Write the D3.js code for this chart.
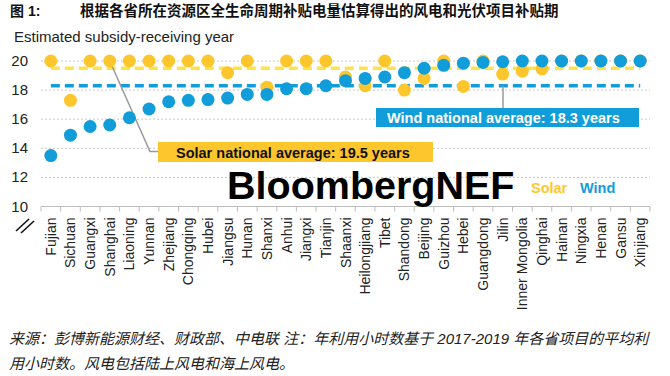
<!DOCTYPE html>
<html>
<head>
<meta charset="utf-8">
<script src="https://cdn.jsdelivr.net/npm/d3@7"></script>
<style>
  body { margin: 0; background: #fff; }
  svg { display: block; font-family: "Liberation Sans", Arial, "Noto Sans CJK SC", sans-serif; }
</style>
</head>
<body>
<div id="chart"></div>
<script>
// provinces, left to right
const provinces = ["Fujian", "Sichuan", "Guangxi", "Shanghai", "Liaoning", "Yunnan", "Zhejiang",
  "Chongqing", "Hubei", "Jiangsu", "Hunan", "Shanxi", "Anhui", "Jiangxi", "Tianjin", "Shaanxi",
  "Heilongjiang", "Tibet", "Shandong", "Beijing", "Guizhou", "Hebei", "Guangdong", "Jilin",
  "Inner Mongolia", "Qinghai", "Hainan", "Ningxia", "Henan", "Gansu", "Xinjiang"];
// estimated subsidy-receiving years
const solarYears = [20, 17.3, 20, 20, 20, 20, 20, 20, 20, 19.2, 20, 18.2, 20, 20, 20, 18.9,
  18.3, 20, 18.0, 18.8, 20, 18.25, 20, 19.1, 19.3, 19.45, 20, 20, 20, 20, 20];
const windYears = [13.5, 14.9, 15.5, 15.6, 16.1, 16.7, 17.2, 17.3, 17.35, 17.45, 17.7, 17.7,
  18.1, 18.1, 18.3, 18.65, 18.8, 18.9, 19.2, 19.5, 19.7, 19.85, 19.9, 19.95, 20, 20, 20, 20, 20, 20, 20];
const solarAvg = 19.5;
const windAvg = 18.3;
const yTicks = [10, 12, 14, 16, 18, 20];

const title = "根据各省所在资源区全生命周期补贴电量估算得出的风电和光伏项目补贴期";
const note1 = "来源：彭博新能源财经、财政部、中电联  注：年利用小时数基于 2017-2019 年各省项目的平均利";
const note2 = "用小时数。风电包括陆上风电和海上风电。";

const width = 670, height = 376;
const solarColor = "#fdc62c", windColor = "#109dd9";

const svg = d3.select("#chart").append("svg")
  .attr("width", width)
  .attr("height", height);

const x = d3.scalePoint()
  .domain(provinces)
  .range([41, 650])
  .padding(0.5);
const y = d3.scaleLinear()
  .domain([10, 20])
  .range([206.5, 61]);

// title
svg.append("text").attr("x", 10).attr("y", 16)
  .attr("font-size", 14).attr("font-weight", "bold").attr("fill", "#111")
  .text("图 1:");
svg.append("text").attr("x", 80).attr("y", 16)
  .attr("font-size", 14.5).attr("font-weight", "bold").attr("fill", "#111")
  .style("font-family", "'Noto Sans CJK SC', sans-serif")
  .text(title);

// axis title
svg.append("text").attr("x", 14).attr("y", 42)
  .attr("font-size", 15).attr("fill", "#222")
  .text("Estimated subsidy-receiving year");

// gridlines
svg.append("g")
  .selectAll("line")
  .data(yTicks.filter(d => d > 10))
  .join("line")
    .attr("x1", 41).attr("x2", 650)
    .attr("y1", d => y(d)).attr("y2", d => y(d))
    .attr("stroke", "#c8c8c8")
    .attr("stroke-dasharray", "2,2");

// y labels
svg.append("g")
  .selectAll("text")
  .data(yTicks)
  .join("text")
    .attr("x", 28).attr("y", d => y(d) + 5)
    .attr("text-anchor", "end")
    .attr("font-size", 15).attr("fill", "#222")
    .text(d => d);

// x axis
const xAxis = svg.append("g")
  .attr("transform", "translate(0," + y(10) + ")");
xAxis.append("line").attr("x1", 41).attr("x2", 650).attr("stroke", "#bdbdbd");
const step = x.step();
xAxis.selectAll("line.tick")
  .data(d3.range(provinces.length + 1))
  .join("line").attr("class", "tick")
    .attr("x1", i => 41 + i * step).attr("x2", i => 41 + i * step)
    .attr("y1", 0).attr("y2", 5)
    .attr("stroke", "#bdbdbd");
xAxis.selectAll("text")
  .data(provinces)
  .join("text")
    .attr("transform", d => "translate(" + (x(d) + 5) + ",11) rotate(-90)")
    .attr("text-anchor", "end")
    .attr("font-size", 14).attr("fill", "#222")
    .text(d => d);

// axis break mark
svg.append("g").attr("stroke", "#111").attr("stroke-width", 1.6)
  .selectAll("line")
  .data([0, 5])
  .join("line")
    .attr("x1", d => 16 + d).attr("y1", d => 231 + d * 0.4)
    .attr("x2", d => 29 + d).attr("y2", d => 219 + d * 0.4);

// national averages
svg.append("line")
  .attr("x1", x(provinces[0])).attr("x2", x(provinces[provinces.length - 1]))
  .attr("y1", y(solarAvg)).attr("y2", y(solarAvg))
  .attr("stroke", "#ffe24a").attr("stroke-width", 3.5)
  .attr("stroke-dasharray", "9,5");
svg.append("line")
  .attr("x1", x(provinces[0])).attr("x2", x(provinces[provinces.length - 1]))
  .attr("y1", y(windAvg)).attr("y2", y(windAvg))
  .attr("stroke", windColor).attr("stroke-width", 3.5)
  .attr("stroke-dasharray", "9,5");

// leader lines
svg.append("path")
  .attr("d", d3.line()([[x("Shanghai"), y(20)], [150, 151.5], [158, 151.5]]))
  .attr("fill", "none").attr("stroke", "#9a9a9a").attr("stroke-width", 1.5);
svg.append("line")
  .attr("x1", 503).attr("x2", 503).attr("y1", y(windAvg)).attr("y2", 108)
  .attr("stroke", "#9a9a9a").attr("stroke-width", 1.5);

// dots
svg.append("g")
  .selectAll("circle")
  .data(provinces)
  .join("circle")
    .attr("cx", d => x(d))
    .attr("cy", (d, i) => y(solarYears[i]))
    .attr("r", 6.5)
    .attr("fill", solarColor);
svg.append("g")
  .selectAll("circle")
  .data(provinces)
  .join("circle")
    .attr("cx", d => x(d))
    .attr("cy", (d, i) => y(windYears[i]))
    .attr("r", 6.5)
    .attr("fill", windColor);

// average labels
svg.append("rect").attr("x", 376).attr("y", 108).attr("width", 263).attr("height", 19)
  .attr("fill", windColor);
svg.append("text").attr("x", 387).attr("y", 123)
  .attr("font-size", 14.5).attr("font-weight", "bold").attr("fill", "#fff")
  .text("Wind national average: " + windAvg + " years");
svg.append("rect").attr("x", 158).attr("y", 142).attr("width", 275).attr("height", 20)
  .attr("fill", solarColor);
svg.append("text").attr("x", 176).attr("y", 157.5)
  .attr("font-size", 14.5).attr("font-weight", "bold").attr("fill", "#111")
  .text("Solar national average: " + solarAvg + " years");

// brand + legend
svg.append("text").attr("x", 227).attr("y", 199)
  .attr("font-size", 39.5).attr("font-weight", "bold").attr("fill", "#000")
  .text("BloombergNEF");
svg.append("text").attr("x", 531).attr("y", 193)
  .attr("font-size", 14.5).attr("font-weight", "bold").attr("fill", solarColor)
  .text("Solar");
svg.append("text").attr("x", 580).attr("y", 193)
  .attr("font-size", 14.5).attr("font-weight", "bold").attr("fill", windColor)
  .text("Wind");

// source note
const notes = svg.append("g")
  .attr("font-size", 15).attr("font-style", "italic").attr("fill", "#222")
  .style("font-family", "'Liberation Sans', 'Noto Sans CJK SC', sans-serif");
notes.append("text").attr("x", 9).attr("y", 344).text(note1);
notes.append("text").attr("x", 9).attr("y", 369).text(note2);
</script>
</body>
</html>
